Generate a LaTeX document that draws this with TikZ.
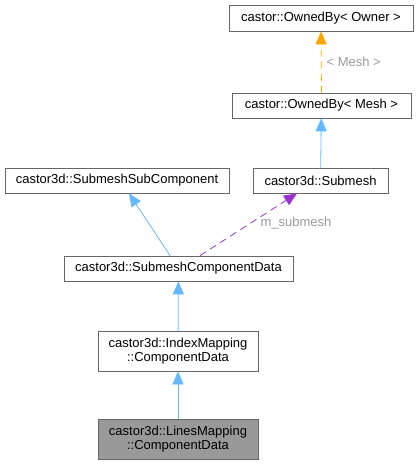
\documentclass[tikz,border=0pt]{standalone}
\usepackage{fontspec}
\setmainfont{Liberation Sans}
\usetikzlibrary{arrows.meta}
\definecolor{edgeblue}{HTML}{63B8FF}
\definecolor{edgeorange}{HTML}{FFA500}
\definecolor{edgepurple}{HTML}{9A32CD}
\definecolor{boxline}{HTML}{666666}
\definecolor{lbltext}{HTML}{9A9A9A}
\tikzset{
        classnode/.style = {align=center, inner sep=0pt, text centered,
            font=\fontsize{13}{14}\selectfont, draw=boxline, thick},
        cls_n/.style = {classnode, rectangle, fill=white},
        cls_g/.style = {classnode, rectangle, fill=black!40},
        edge_lbl/.style = {font=\fontsize{13}{14}\selectfont, text=lbltext, inner sep=0pt},
        dep/.style = {dash pattern=on 7pt off 5pt}
    }
\begin{document}
\begin{tikzpicture}[x=1pt,y=-1pt,>={Triangle[length=13pt,width=11pt]}]
    \useasboundingbox (0,0) rectangle (418,465);
    % class boxes
    \node [cls_n, minimum width=184pt, minimum height=26pt] (owner) at (321,18) {castor::OwnedBy< Owner >};
    \node [cls_n, minimum width=179pt, minimum height=25pt] (owned) at (321.5,105.5) {castor::OwnedBy< Mesh >};
    \node [cls_n, minimum width=135pt, minimum height=25pt] (submesh) at (320.5,180.5) {castor3d::Submesh};
    \node [cls_n, minimum width=224pt, minimum height=25pt] (subcomp) at (117,180.5) {castor3d::SubmeshSubComponent};
    \node [cls_n, minimum width=229pt, minimum height=25pt] (compdata) at (178.5,268.5) {castor3d::SubmeshComponentData};
    \node [cls_n, minimum width=160pt, minimum height=40pt] (index) at (178,351) {castor3d::IndexMapping\\::ComponentData};
    \node [cls_g, minimum width=160pt, minimum height=40pt] (lines) at (178,439) {castor3d::LinesMapping\\::ComponentData};
    % connectors
    \draw [->, edgeorange, dep, thick] (owned) -- (owner)
        node [edge_lbl, anchor=west, pos=0.5, xshift=5pt] {< Mesh >};
    \draw [->, edgeblue, thick] (submesh) -- (owned);
    \draw [->, edgeblue, thick] (compdata.north -| 170,0) -- (subcomp.south -| 129,0);
    \draw [->, edgepurple, dep, thick] (compdata.north -| 200,0) -- (submesh.south -| 297,0);
    \node [edge_lbl] (lbl) at (296,223) {m\_submesh};
    \draw [->, edgeblue, thick] (index) -- (compdata);
    \draw [->, edgeblue, thick] (lines) -- (index);
\end{tikzpicture}
\end{document}
